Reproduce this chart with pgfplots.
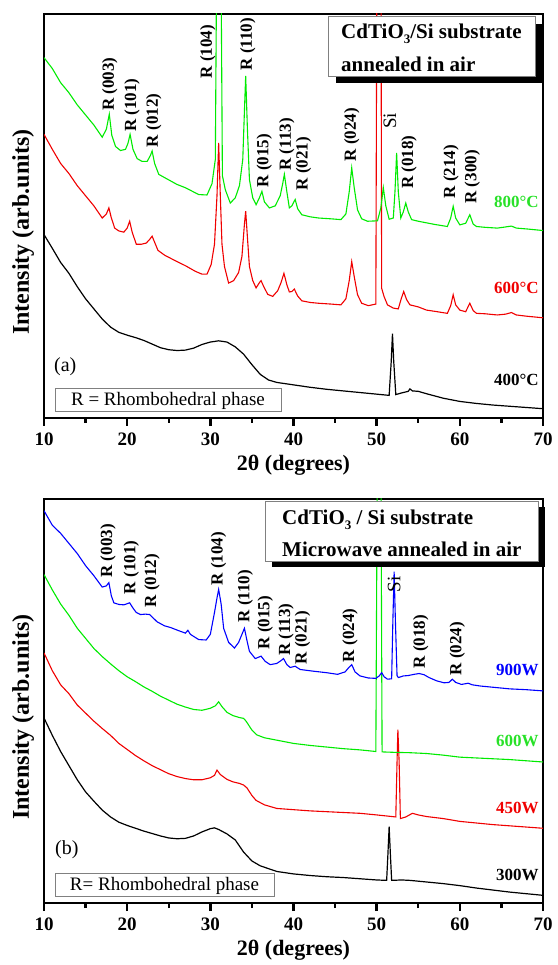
\documentclass[border=0pt]{standalone}
\usepackage{fontspec}
\setmainfont{Liberation Serif}
\usepackage{pgfplots}
\pgfplotsset{compat=1.18}

\definecolor{xgreen}{RGB}{0,235,0}
\definecolor{xred}{RGB}{240,0,0}
\definecolor{xblue}{RGB}{0,0,255}
\definecolor{tgreen}{RGB}{40,225,40}

\pgfplotsset{
  xrd/.style={
    scale only axis, width=499pt, height=404pt,
    xmin=10, xmax=70, ymin=0, ymax=100,
    xtick={10,20,...,70}, minor x tick num=1, ytick=\empty,
    xtick pos=left, xtick align=outside,
    major tick length=8pt, minor tick length=5pt,
    every tick/.append style={black, line width=2.4pt},
    axis line style={line width=2.4pt},
    clip mode=individual, no marks,
    /pgf/number format/assume math mode=true,
    xticklabel style={font=\fontsize{19}{19}\selectfont\bfseries, yshift=-3pt},
    xlabel={2θ (degrees)},
    xlabel style={font=\fontsize{22}{22}\selectfont\bfseries,
      at={(axis description cs:0.5,-0.118)}, anchor=center},
    ylabel={Intensity (arb.units)},
    ylabel style={font=\fontsize{24}{24}\selectfont\bfseries,
      at={(axis description cs:-0.042,0.46)}, anchor=center},
    every axis plot/.append style={line width=1.1pt},
  },
}
\tikzset{
  lbl/.style={rotate=90, anchor=west, inner sep=0pt,
    font=\fontsize{17}{17}\selectfont\bfseries},
  si/.style={rotate=90, anchor=west, inner sep=0pt,
    font=\fontsize{19}{19}\selectfont},
  tag/.style={anchor=east, inner sep=0pt,
    font=\fontsize{17}{17}\selectfont\bfseries},
}

\begin{document}
\begin{tikzpicture}
\useasboundingbox (0,0) rectangle (557pt,965pt);

% ---------- panel (a): thermal annealing ----------
\begin{axis}[xrd, at={(44pt,547pt)}, anchor=south west]
% 400 C
\addplot[black, line width=1.2pt] coordinates {
(10,45.4)(11,42)(12,38.5)(13,35.8)(14,32.5)(15,29.5)(16,27)(17,24.5)(18,22.5)
(19,21.2)(20,20.5)(21,19.9)(22,19.2)(23,18.3)(24,17.4)(25,16.9)(26,16.7)(27,16.8)
(28,17.3)(29,18.2)(30,18.8)(31,19.1)(32,18.8)(33,17.6)(34,15.8)(35,13.2)(36,10.8)
(37,9.4)(38,8.8)(39,8.5)(40,8.2)(42,7.6)(44,7.1)(46,6.7)(48,6.3)(50,5.9)(51.5,5.6)
(51.75,14)(51.9,20.9)(52.05,14)(52.3,5.8)(53,6.2)(53.8,6.6)(54,7.2)(54.3,6.7)
(55,6.6)(56,6.0)(58,4.9)(60,4.1)(62,3.6)(64,3.2)(66,2.9)(68,2.6)(70,2.3)};
% 600 C
\addplot[xred] coordinates {
(10,70.2)(11,66.5)(12,63)(13,60.5)(14,57.5)(15,55)(16,52.5)(17,49.5)(17.5,50.5)
(17.8,52.0)(18.1,49.5)(18.5,47)(19,46.3)(19.6,46)(20.0,47)(20.3,48.7)(20.6,46)
(21.1,43)(21.7,43)(22.3,43.3)(22.7,44.2)(23.0,45.0)(23.3,43.5)(23.7,41.5)(24.5,40.3)
(26,38.7)(27,37.7)(28.2,36.3)(29,35.6)(29.6,35.6)(30.1,38)(30.5,43)(30.8,55)
(31.0,68.1)(31.2,55)(31.4,43)(31.7,37.5)(32.2,33.4)(32.8,34)(33.4,36)(33.8,40)
(34.1,48)(34.25,51.2)(34.45,45)(34.7,37.5)(35.1,34)(35.5,32.2)(35.9,33.5)(36.1,34)
(36.4,32.6)(36.9,30.6)(37.5,30.1)(38.1,31.5)(38.5,33.5)(38.85,35.8)(39.2,33)
(39.5,31.2)(39.8,31.3)(40.1,31.9)(40.5,30.2)(41,29.0)(42,28.6)(43,28.4)(44.5,28.2)
(45.7,28.0)(46.3,29.5)(46.7,34)(47.0,38.7)(47.3,35)(47.7,30.5)(48.2,28.4)(49,27.8)
(49.9,28.2)(50.05,130)(50.5,130)(50.6,32.1)(50.9,30)(51.3,28.0)(52,27.2)(52.6,27)
(52.95,29.5)(53.25,31.3)(53.6,29.3)(54,28)(55,27.5)(56,26.7)(57,26.4)(58.5,25.9)
(58.9,27.8)(59.2,30.5)(59.5,28)(60,26.7)(60.7,26.3)(61.2,28.4)(61.6,26.6)(62,25.9)
(63,25.8)(64.5,25.5)(65.5,25.7)(66.2,26.1)(66.8,25.5)(68,25.2)(70,24.8)};
% 800 C
\addplot[xgreen] coordinates {
(10,89.2)(11,86.5)(12,83)(13,80.5)(14,77.5)(15,75)(16,72.5)(17,69.5)(17.5,71.5)
(17.85,75.2)(18.15,70)(18.6,67.2)(19.2,66.2)(19.8,66.5)(20.1,68)(20.35,70.2)
(20.7,66.5)(21.2,64.2)(21.8,63.5)(22.4,63.5)(22.8,65)(23.0,66.1)(23.3,63)(23.8,60.3)
(24.5,59.5)(26,57.8)(27,57)(28.6,55.3)(29.6,55.2)(30.2,58)(30.6,64)(30.85,140)
(31.2,140)(31.45,60)(31.8,56.5)(32.4,53.2)(33,54.5)(33.5,57.5)(33.9,64)(34.1,76)
(34.25,84.7)(34.45,72)(34.7,59)(35.1,54.5)(35.5,52.8)(35.9,54.5)(36.2,56.1)
(36.5,53.5)(37.1,52)(37.8,52.5)(38.4,55)(38.7,58)(38.9,60.3)(39.2,56)(39.5,52)
(39.8,52.5)(40.2,54.1)(40.5,51.8)(41,50.3)(42,49.8)(43,49.5)(44.5,49.3)(45.7,49.1)
(46.3,50.5)(46.7,56)(47.0,61.9)(47.3,57)(47.7,51.5)(48.2,49.3)(48.9,48.7)(50.1,48.8)
(50.5,52)(50.8,57)(51.1,52.5)(51.5,49.2)(52.0,49.5)(52.2,56)(52.4,65.6)(52.6,56)
(52.9,49.5)(53.2,51)(53.5,53.2)(53.8,51)(54.2,49.1)(55,48.7)(56,48.3)(57,47.9)
(58.5,47.4)(58.9,49.5)(59.2,52.4)(59.5,49.5)(60,47.8)(60.7,48.2)(61.2,50.3)(61.6,48)
(62,47.4)(63,47.2)(64.5,47.0)(65.2,47.2)(66.2,47.5)(66.8,47)(68,46.8)(70,46.4)};

\node[lbl] at (axis cs:17.9,76) {R (003)};
\node[lbl] at (axis cs:20.6,70.8) {R (101)};
\node[lbl] at (axis cs:23.2,67) {R (012)};
\node[lbl] at (axis cs:29.7,84) {R (104)};
\node[lbl] at (axis cs:34.5,86) {R (110)};
\node[lbl] at (axis cs:36.5,57) {R (015)};
\node[lbl] at (axis cs:39.2,61.2) {R (113)};
\node[lbl] at (axis cs:41.2,56.3) {R (021)};
\node[lbl] at (axis cs:47.0,63.5) {R (024)};
\node[si] at (axis cs:51.6,71.5) {Si};
\node[lbl] at (axis cs:53.9,56.7) {R (018)};
\node[lbl] at (axis cs:58.95,54.3) {R (214)};
\node[lbl] at (axis cs:61.5,53) {R (300)};

\node[tag, text=tgreen] at (axis cs:69.5,53.6) {800°C};
\node[tag, text=xred] at (axis cs:69.5,32.1) {600°C};
\node[tag, text=black] at (axis cs:69.5,9.4) {400°C};
\end{axis}

% ---------- panel (b): microwave annealing ----------
\begin{axis}[xrd, at={(44pt,62pt)}, anchor=south west]
% 300 W
\addplot[black, line width=1.2pt] coordinates {
(10,45.8)(11,41.5)(12,37.5)(13,34)(14,30.5)(15,27.5)(16,25.2)(17,23)(18,21.3)
(19,20)(20,19.2)(21,18.5)(22,17.8)(23,17.2)(24,16.6)(25,16.1)(26,15.9)(27,16.0)
(28,16.6)(29,17.6)(30,18.4)(30.5,18.6)(31,18.2)(32,17.1)(33,15.6)(34,12.6)(35,10.4)
(36,9.2)(37,8.5)(38,7.8)(40,7.2)(42,6.8)(44,6.5)(46,6.3)(48,6.0)(50,5.7)(51.2,5.6)
(51.35,12)(51.5,18.9)(51.65,12)(51.8,5.6)(53,5.7)(54,5.6)(56,5.2)(58,4.8)(60,4.3)
(62,3.7)(64,3.2)(66,2.7)(68,2.3)(70,1.9)};
% 450 W
\addplot[xred] coordinates {
(10,61.9)(11,57.5)(12,54)(13,51.8)(14,49)(15,47)(16,45)(17,43.2)(18,41.5)(19,39.5)
(20,38)(21,36.5)(22,35.2)(23,34)(24,33)(25,32)(26,31.3)(27,30.8)(28,30.5)(29,30.5)
(30,31)(30.5,31.6)(30.8,32.9)(31.2,31.8)(32,30.6)(32.7,30)(33.5,29.6)(34.0,29.2)
(34.4,28.5)(35,26.6)(35.5,25.4)(36.5,24.3)(38,23.4)(40,23.1)(42,22.8)(44,22.6)
(46,22.4)(48,22.2)(50,21.8)(52.3,21.3)(52.45,35)(52.55,42.9)(52.7,35)(52.85,20.9)
(53.5,21.3)(54.3,22.2)(55,21.8)(56,21.4)(58,20.9)(60,20.2)(62,19.8)(64,19.4)
(66,19.1)(68,18.8)(70,18.5)};
% 600 W
\addplot[xgreen] coordinates {
(10,81.3)(11,77.5)(12,74)(13,71.2)(14,68)(15,65.5)(16,63)(17,61)(18,59.2)(19,57.5)
(20,56)(21,54.8)(22,53.5)(23,52.4)(24,51.2)(25,50.2)(26,49.2)(27,48.5)(28,47.9)
(29,47.7)(30,48.2)(30.6,48.8)(31,49.8)(31.4,48.6)(32,47.2)(32.7,46.4)(33.5,45.9)
(34,45.7)(34.3,45)(35,42.8)(35.6,41.6)(36.5,40.9)(38,40.3)(40,39.5)(42,39)(44,38.6)
(46,38.2)(48,37.9)(49.9,37.5)(50.15,140)(50.45,140)(50.65,37.4)(52,37.3)(54,37.2)
(56,37)(58,36.6)(60,36.1)(62,35.9)(64,35.7)(66,35.5)(68,35.2)(70,34.9)};
% 900 W
\addplot[xblue] coordinates {
(10,97.1)(11,93.5)(12,91.5)(13,89)(14,86.5)(15,83.5)(16,81)(17,78.2)(17.5,78.5)
(17.8,79.3)(18.1,76)(18.4,74.3)(19,73.9)(19.6,73.8)(20.3,74.3)(20.7,73)(21.1,71.9)
(21.6,71.4)(22.2,71.5)(22.7,71.4)(23.2,70.4)(23.6,69.6)(24.5,68.6)(25.2,68.2)
(26.2,67.4)(27.0,66.8)(27.3,67.5)(27.6,66.5)(28.6,65.2)(29.5,65.1)(30.0,66.5)
(30.5,71.9)(30.8,75.5)(31.0,77.6)(31.3,74)(31.6,68.0)(32.2,64.5)(32.9,63.1)
(33.4,64.5)(33.8,66.5)(34.1,68.0)(34.4,65)(34.7,62.3)(35.4,60.5)(36.1,61.1)
(36.6,59.8)(37.2,59.0)(38,59.3)(38.5,60)(38.8,60.5)(39.2,59)(39.6,58.3)(40.2,58.6)
(40.8,57.8)(42.3,57.4)(44,57)(45.3,56.6)(46.2,57.2)(46.7,58.4)(47.0,59.0)(47.4,57.2)
(48,56.2)(49,55.7)(49.9,55.6)(50.3,56.2)(50.6,57.0)(50.9,56)(51.3,55.4)(51.8,55.5)
(51.95,70)(52.1,82)(52.25,70)(52.45,56.3)(52.6,55.8)(53.2,56.2)(53.8,56.3)
(54.5,56.6)(55.1,56.8)(55.7,56.5)(56.3,55.8)(57.2,55)(58.1,54.5)(58.7,54.6)
(59.1,55.4)(59.5,54.6)(60.2,54.1)(61.0,54.4)(61.5,54)(62.5,53.7)(64.5,53.3)
(66,53.0)(68,52.8)(70,52.5)};

\node[lbl] at (axis cs:17.7,80.5) {R (003)};
\node[lbl] at (axis cs:20.5,76.4) {R (101)};
\node[lbl] at (axis cs:23.0,73.1) {R (012)};
\node[lbl] at (axis cs:31.0,78.6) {R (104)};
\node[lbl] at (axis cs:34.2,69.4) {R (110)};
\node[lbl] at (axis cs:36.6,62.7) {R (015)};
\node[lbl] at (axis cs:39.1,61.1) {R (113)};
\node[lbl] at (axis cs:41.1,59.0) {R (021)};
\node[lbl] at (axis cs:46.8,59.6) {R (024)};
\node[si] at (axis cs:52.1,76.8) {Si};
\node[lbl] at (axis cs:55.3,58.0) {R (018)};
\node[lbl] at (axis cs:59.7,56.3) {R (024)};

\node[tag, text=xblue] at (axis cs:69.5,57.8) {900W};
\node[tag, text=tgreen] at (axis cs:69.5,40.0) {600W};
\node[tag, text=xred] at (axis cs:69.5,23.4) {450W};
\node[tag, text=black] at (axis cs:69.5,7.0) {300W};
\end{axis}

% ---------- boxes and panel letters ----------
\fill[black] (336pt,941pt) rectangle (543pt,882pt);
\filldraw[fill=white, draw=gray, line width=1pt] (328pt,948pt) rectangle (535pt,888pt);
\node[anchor=base west, inner sep=0pt, font=\fontsize{21}{21}\selectfont\bfseries]
  at (341pt,926pt) {CdTiO\raisebox{-0.45ex}{\fontsize{13}{13}\selectfont 3}/Si substrate};
\node[anchor=base west, inner sep=0pt, font=\fontsize{21}{21}\selectfont\bfseries]
  at (341pt,893pt) {annealed in air};

\fill[black] (272pt,458pt) rectangle (545pt,398pt);
\filldraw[fill=white, draw=gray, line width=1pt] (265pt,463pt) rectangle (538pt,403pt);
\node[anchor=base west, inner sep=0pt, font=\fontsize{21}{21}\selectfont\bfseries]
  at (282pt,440pt) {CdTiO\raisebox{-0.45ex}{\fontsize{13}{13}\selectfont 3} / Si substrate};
\node[anchor=base west, inner sep=0pt, font=\fontsize{21}{21}\selectfont\bfseries]
  at (282pt,408pt) {Microwave annealed in air};

\filldraw[fill=white, draw=gray, line width=1pt] (55pt,576pt) rectangle (281pt,553pt);
\node[font=\fontsize{19}{19}\selectfont] at (168pt,564.5pt) {R = Rhombohedral phase};
\filldraw[fill=white, draw=gray, line width=1pt] (55pt,91pt) rectangle (274pt,68pt);
\node[font=\fontsize{19}{19}\selectfont] at (164.5pt,79.5pt) {R= Rhombohedral phase};

\node[anchor=west, inner sep=0pt, font=\fontsize{20}{20}\selectfont] at (54pt,598pt) {(a)};
\node[anchor=west, inner sep=0pt, font=\fontsize{20}{20}\selectfont] at (55pt,115pt) {(b)};
\end{tikzpicture}
\end{document}
